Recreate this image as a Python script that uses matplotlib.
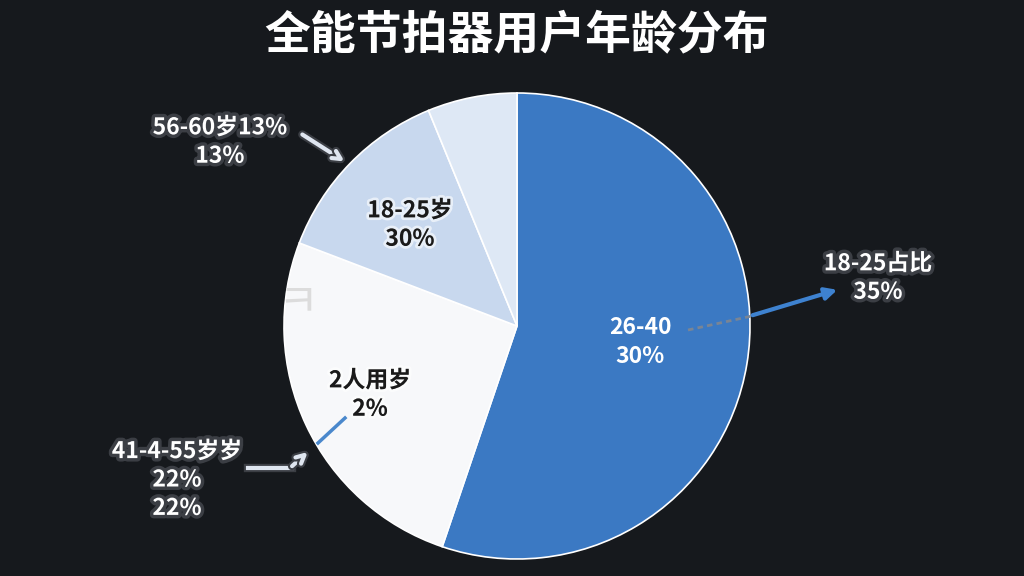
import matplotlib
matplotlib.use("Agg")
import matplotlib.pyplot as plt
import matplotlib.patheffects as pe

plt.rcParams['font.family'] = ['Noto Sans CJK SC', 'DejaVu Sans']

title = "全能节拍器用户年龄分布"
segments = ["26-40", "2人用岁", "18-25岁", "其他"]
shares = [55.2, 25.6, 13.0, 6.2]
inner_labels = ["26-40\n30%", "2人用岁\n2%", "18-25岁\n30%", ""]
colors = ["#3b79c3", "#f7f8fa", "#c8d8ee", "#dee8f5"]
inner_text_colors = ["white", "#1a1a1a", "#1a1a1a", "#1a1a1a"]
outer_labels = ["18-25占比\n35%", "56-60岁13%\n13%", "41-4-55岁岁\n22%\n22%"]

BG = "#16191d"
W, H = 1024, 576
CX, CY, R = 517, 326, 233

fig = plt.figure(figsize=(W / 100, H / 100), dpi=100, facecolor=BG)
ax = fig.add_axes([(CX - R) / W, (H - CY - R) / H, 2 * R / W, 2 * R / H])
ax.set_facecolor(BG)
ax.axis("off")

wedges, _ = ax.pie(shares, colors=colors, startangle=90, counterclock=False,
                   radius=1.0, wedgeprops=dict(edgecolor="white", linewidth=1.2))
ax.set_xlim(-1, 1)
ax.set_ylim(-1, 1)
ax.set_aspect("equal")


def d(px, py):
    return ((px - CX) / R, (CY - py) / R)


glow = [pe.withStroke(linewidth=5, foreground="#3b3e44")]
soft = [pe.withStroke(linewidth=4, foreground=(1, 1, 1, 0.6))]

# inner labels
inner_pos = [(640, 342), (370, 395), (410, 225)]
for txt, col, pos in zip(inner_labels, inner_text_colors, inner_pos):
    x, y = d(*pos)
    ax.text(x, y, txt, ha="center", va="center", fontsize=16.5, color=col,
            fontweight="bold", linespacing=1.3,
            path_effects=soft if col != "white" else None)

# faint stray glyph
x, y = d(298, 302)
ax.text(x, y, "ㅋ", ha="center", va="center", fontsize=32, color="#dcdcdc",
        fontweight="light", family=['Noto Sans CJK KR', 'DejaVu Sans'])

# outer labels
out_pos = [(878, 278), (220, 142), (177, 480)]
for txt, pos in zip(outer_labels, out_pos):
    x, y = d(*pos)
    ax.text(x, y, txt, ha="center", va="center", fontsize=16.5, color="white",
            fontweight="bold", linespacing=1.3, path_effects=glow, clip_on=False)

# arrows
# right: dashed connector then blue arrow
ax.plot(*zip(d(688, 330), d(752, 316)), color="#7a8594", lw=2, ls=(0, (2, 1.5)),
        clip_on=False, zorder=3)
ax.annotate("", xy=d(840, 289), xytext=d(750, 316),
            arrowprops=dict(arrowstyle="-|>,head_length=0.7,head_width=0.35",
                            color="#3e82d0", lw=3), annotation_clip=False)
# top-left arrow
ax.annotate("", xy=d(347, 163), xytext=d(300, 133),
            arrowprops=dict(arrowstyle="->,head_length=0.6,head_width=0.3",
                            color="#dfe6f0", lw=3,
                            path_effects=[pe.withStroke(linewidth=6, foreground="#3b3e44")]),
            annotation_clip=False)
# bottom-left arrow (elbow)
ax.plot(*zip(d(248, 468), d(292, 468)), color="#dfe6f0", lw=3, clip_on=False,
        path_effects=[pe.withStroke(linewidth=6, foreground="#3b3e44")], zorder=3)
ax.annotate("", xy=d(310, 450), xytext=d(290, 468),
            arrowprops=dict(arrowstyle="->,head_length=0.6,head_width=0.3",
                            color="#dfe6f0", lw=3,
                            path_effects=[pe.withStroke(linewidth=6, foreground="#3b3e44")]),
            annotation_clip=False)
# small blue connector in white slice
ax.plot(*zip(d(318, 443), d(345, 418)), color="#4a88cc", lw=2.5, zorder=3)

fig.text(CX / W, 1 - 35 / H, title, ha="center", va="center", fontsize=33,
         fontweight="bold", color="white")

fig.savefig("out.png", dpi=100, facecolor=BG)
